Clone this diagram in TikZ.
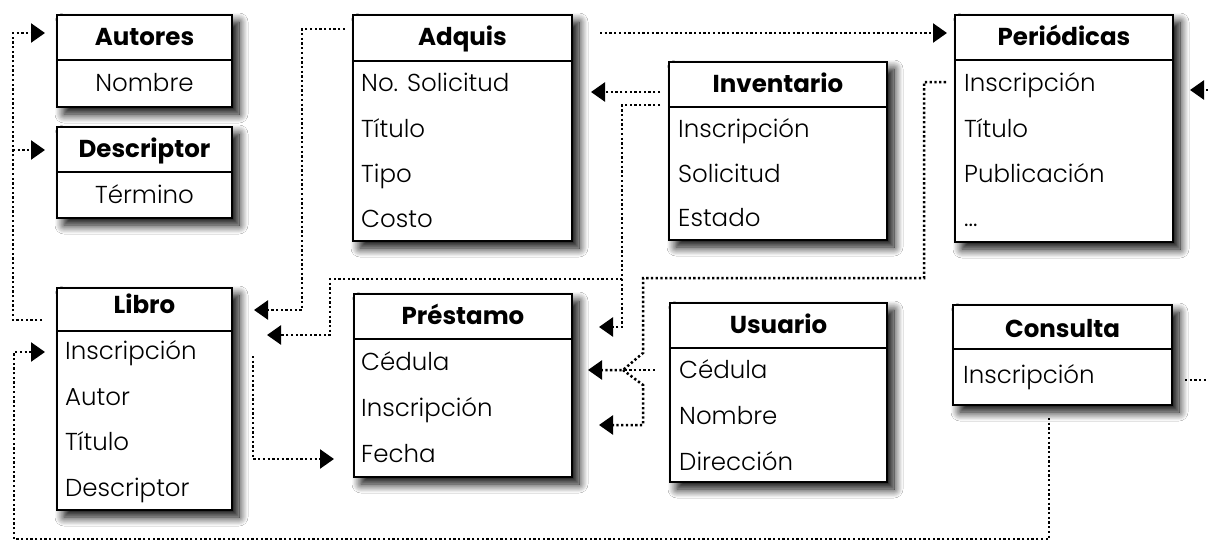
\documentclass[tikz,border=0pt]{standalone}
\usepackage{fontspec}
\setmainfont{Poppins}
\newfontfamily\lightfont{Poppins Light}
\usetikzlibrary{arrows.meta,shadows.blur}
\tikzset{
  tbl/.style={draw=black, line width=2.6pt, fill=white, inner sep=0pt, outer sep=0pt,
    blur shadow={shadow xshift=7pt, shadow yshift=-7pt, shadow blur radius=9pt, shadow blur steps=14, shadow opacity=100}},
  divl/.style={line width=2.2pt},
  ttl/.style={anchor=base, inner sep=0pt, font=\fontsize{24.5}{28}\selectfont\bfseries},
  rowc/.style={anchor=base, inner sep=0pt, font=\fontsize{24.5}{28}\selectfont\lightfont},
  rowl/.style={anchor=base west, inner sep=0pt, font=\fontsize{24.5}{28}\selectfont\lightfont},
  dotl/.style={line width=2.5pt, dash pattern=on 2.3pt off 2.4pt},
  arr/.style={-{Triangle[length=14pt,width=19pt]}},
}
\begin{document}
\begin{tikzpicture}[x=1pt,y=-1pt]
\useasboundingbox[fill=white] (0,0) rectangle (1208,541);

% ---------- boxes ----------
\node[tbl, minimum width=175pt, minimum height=92pt]  (aut) at (144.5,61) {};
\node[tbl, minimum width=175pt, minimum height=91pt]  (des) at (144.5,172.5) {};
\node[tbl, minimum width=219pt, minimum height=226pt] (adq) at (462.5,128) {};
\node[tbl, minimum width=218pt, minimum height=178pt] (inv) at (778,151) {};
\node[tbl, minimum width=218pt, minimum height=227pt] (per) at (1064,128.5) {};
\node[tbl, minimum width=175pt, minimum height=222pt] (lib) at (144.5,399) {};
\node[tbl, minimum width=218pt, minimum height=183pt] (pre) at (463,385.5) {};
\node[tbl, minimum width=217pt, minimum height=179pt] (usu) at (778.5,392.5) {};
\node[tbl, minimum width=219pt, minimum height=100pt] (con) at (1062.5,355) {};

% dividers
\draw[divl] (aut.west |- 0,60) -- (aut.east |- 0,60);
\draw[divl] (des.west |- 0,172) -- (des.east |- 0,172);
\draw[divl] (adq.west |- 0,61) -- (adq.east |- 0,61);
\draw[divl] (inv.west |- 0,107) -- (inv.east |- 0,107);
\draw[divl] (per.west |- 0,60) -- (per.east |- 0,60);
\draw[divl] (lib.west |- 0,331) -- (lib.east |- 0,331);
\draw[divl] (pre.west |- 0,339) -- (pre.east |- 0,339);
\draw[divl] (usu.west |- 0,348) -- (usu.east |- 0,348);
\draw[divl] (con.west |- 0,349) -- (con.east |- 0,349);

% ---------- texts ----------
\node[ttl] (autT) at (144.5,45) {Autores};
\node[rowc] (aut1) at (144.5,91) {Nombre};

\node[ttl] (desT) at (144.5,157) {Descriptor};
\node[rowc] (des1) at (144.5,203) {Término};

\node[ttl] (adqT) at (462.5,45) {Adquis};
\node[rowl] (adq1) at (361,91) {No. Solicitud};
\node[rowl] (adq2) at (361,137) {Título};
\node[rowl] (adq3) at (361,182) {Tipo};
\node[rowl] (adq4) at (361,227) {Costo};

\node[ttl] (invT) at (778,92) {Inventario};
\node[rowl] (inv1) at (678,137) {Inscripción};
\node[rowl] (inv2) at (678,182) {Solicitud};
\node[rowl] (inv3) at (678,226) {Estado};

\node[ttl] (perT) at (1064,45) {Periódicas};
\node[rowl] (per1) at (964,91) {Inscripción};
\node[rowl] (per2) at (964,137) {Título};
\node[rowl] (per3) at (964,182) {Publicación};
\node[rowl] (per4) at (964,226) {...};

\node[ttl] (libT) at (144.5,313) {Libro};
\node[rowl] (lib1) at (65,359) {Inscripción};
\node[rowl] (lib2) at (65,405) {Autor};
\node[rowl] (lib3) at (65,450) {Título};
\node[rowl] (lib4) at (65,496) {Descriptor};

\node[ttl] (preT) at (463,324) {Préstamo};
\node[rowl] (pre1) at (361,370) {Cédula};
\node[rowl] (pre2) at (361,416) {Inscripción};
\node[rowl] (pre3) at (361,462) {Fecha};

\node[ttl] (usuT) at (778.5,333) {Usuario};
\node[rowl] (usu1) at (679,378) {Cédula};
\node[rowl] (usu2) at (679,424) {Nombre};
\node[rowl] (usu3) at (679,470) {Dirección};

\node[ttl] (conT) at (1062.5,337) {Consulta};
\node[rowl] (con1) at (963,383) {Inscripción};

% ---------- connectors ----------
% Libro -> Autores / Descriptor
\coordinate (libOut) at (42,320);
\draw[dotl,arr] (libOut) -- (13,320) -- (13,33) -- (45,33);
\draw[dotl,arr] (13,150) -- (45,150);
% Consulta -> Libro
\coordinate (conOut) at (1049,418);
\draw[dotl,arr] (conOut) -- (1049,539) -- (14,539) -- (14,352) -- (45,352);
% Adquis -> Libro
\draw[dotl,arr] (345,29) -- (302,29) -- (302,310) -- (254,310);
% Inventario -> Libro / Prestamo
\coordinate (invJ) at (622,279);
\draw[dotl,arr] (660,105) -- (622,105) -- (invJ) -- (330,279) -- (330,335) -- (267,335);
\draw[dotl,arr] (invJ) -- (622,327) -- (599,327);
% Inventario -> Adquis
\draw[dotl,arr] (660,92) -- (591,92);
% Adquis -> Periodicas
\draw[dotl,arr] (600,33) -- (947,33);
% Libro -> Prestamo
\draw[dotl,arr] (253,356) -- (253,459) -- (334,459);
% Periodicas / Usuario -> Prestamo
\coordinate (jn) at (623,370);
\draw[dotl,arr] (946,82) -- (924,82) -- (924,278) -- (643,278) -- (643,353) -- (jn) -- (588,370);
\draw[dotl] (655,370) -- (jn);
\draw[dotl,arr] (jn) -- (643,385) -- (643,425) -- (599,425);
% right edge stubs
\draw[dotl,arr] (1208,90) -- (1190,90);
\draw[dotl] (1185,380) -- (1208,380);
\end{tikzpicture}
\end{document}
